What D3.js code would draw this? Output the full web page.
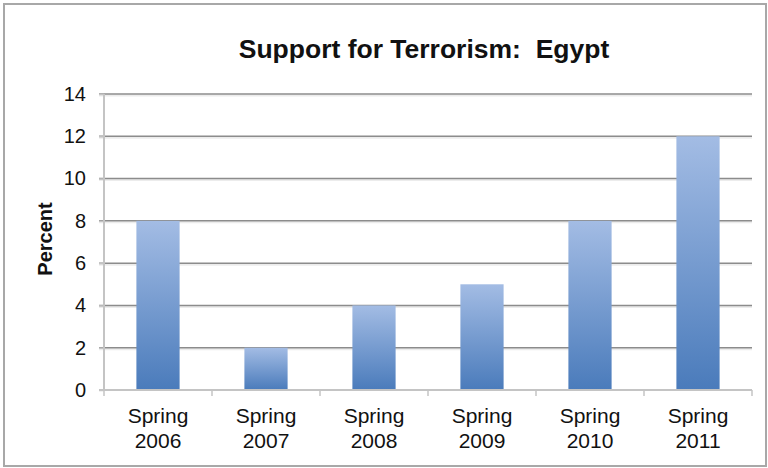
<!DOCTYPE html>
<html>
<head>
<meta charset="utf-8">
<script src="https://cdn.jsdelivr.net/npm/d3@7.9.0/dist/d3.min.js"></script>
<style>
  body { margin: 0; background: #fff; }
  svg text { font-family: "Liberation Sans", Arial, sans-serif; fill: #111; }
</style>
</head>
<body>
<svg id="chart" width="768" height="468"></svg>
<script>
// Chart data
const categories = ["Spring 2006", "Spring 2007", "Spring 2008", "Spring 2009", "Spring 2010", "Spring 2011"];
const values = [8, 2, 4, 5, 8, 12];
const yTicks = [0, 2, 4, 6, 8, 10, 12, 14];

const svg = d3.select("#chart");
const plot = { left: 104, right: 752, top: 94, bottom: 390 };

// Outer frame
svg.append("rect")
    .attr("x", 4).attr("y", 4)
    .attr("width", 762).attr("height", 462)
    .attr("fill", "#fff")
    .attr("stroke", "#a8a8a8")
    .attr("stroke-width", 2);

// Bar gradient
const grad = svg.append("defs").append("linearGradient")
    .attr("id", "barGrad")
    .attr("x1", 0).attr("y1", 0).attr("x2", 0).attr("y2", 1);
grad.append("stop").attr("offset", "0%").attr("stop-color", "#a3bce4");
grad.append("stop").attr("offset", "100%").attr("stop-color", "#4a7bbb");

// Scales
const x = d3.scaleBand()
    .domain(categories)
    .range([plot.left, plot.right])
    .paddingInner(0.6)
    .paddingOuter(0.3);

const y = d3.scaleLinear()
    .domain([0, 14])
    .range([plot.bottom, plot.top]);

// Gridlines with a faint shadow
svg.append("g")
    .selectAll("line")
    .data(yTicks.filter(d => d > 0))
    .join("line")
    .attr("x1", plot.left - 5).attr("x2", plot.right)
    .attr("y1", d => y(d) + 1.5).attr("y2", d => y(d) + 1.5)
    .attr("stroke", "#ececec")
    .attr("stroke-width", 2);

svg.append("g")
    .selectAll("line")
    .data(yTicks.filter(d => d > 0))
    .join("line")
    .attr("x1", plot.left - 5).attr("x2", plot.right)
    .attr("y1", d => y(d)).attr("y2", d => y(d))
    .attr("stroke", "#8c8c8c")
    .attr("stroke-width", 1.5);

// Y axis
const yAxis = svg.append("g")
    .attr("transform", `translate(${plot.left},0)`)
    .call(d3.axisLeft(y).tickValues(yTicks).tickSize(5).tickPadding(13));
yAxis.select(".domain")
    .attr("stroke", "#c4c4c4")
    .attr("stroke-width", 2)
    .attr("d", `M0,${plot.top}V${plot.bottom}`);
yAxis.selectAll(".tick line").attr("stroke", "#c4c4c4").attr("stroke-width", 1.5);
yAxis.selectAll(".tick text")
    .attr("font-size", 20)
    .attr("font-family", "Liberation Sans, Arial, sans-serif")
    .attr("fill", "#111");

// Bars
svg.append("g")
    .selectAll("rect")
    .data(values)
    .join("rect")
    .attr("x", (d, i) => x(categories[i]))
    .attr("y", d => y(d))
    .attr("width", x.bandwidth())
    .attr("height", d => y(0) - y(d))
    .attr("fill", "url(#barGrad)");

// X axis
const xAxis = svg.append("g")
    .attr("transform", `translate(0,${plot.bottom})`);
xAxis.append("line")
    .attr("x1", plot.left - 5).attr("x2", plot.right)
    .attr("stroke", "#c4c4c4")
    .attr("stroke-width", 2);
const step = x.step();
const bounds = d3.range(categories.length + 1).map(i => plot.left + i * step);
xAxis.selectAll(".xtick")
    .data(bounds)
    .join("line")
    .attr("class", "xtick")
    .attr("x1", d => d).attr("x2", d => d)
    .attr("y1", 0).attr("y2", 6)
    .attr("stroke", "#c4c4c4")
    .attr("stroke-width", 1.5);

const labels = xAxis.selectAll(".xlabel")
    .data(categories)
    .join("text")
    .attr("class", "xlabel")
    .attr("text-anchor", "middle")
    .attr("font-size", 21)
    .attr("x", d => x(d) + x.bandwidth() / 2);
labels.append("tspan")
    .attr("x", d => x(d) + x.bandwidth() / 2)
    .attr("y", 33)
    .text(d => d.split(" ")[0]);
labels.append("tspan")
    .attr("x", d => x(d) + x.bandwidth() / 2)
    .attr("y", 58)
    .text(d => d.split(" ")[1]);

// Y axis title
svg.append("text")
    .attr("transform", `translate(52,${(plot.top + plot.bottom) / 2 - 3}) rotate(-90)`)
    .attr("text-anchor", "middle")
    .attr("font-size", 20)
    .attr("font-weight", "bold")
    .text("Percent");

// Chart title
svg.append("text")
    .attr("x", 424)
    .attr("y", 58)
    .attr("text-anchor", "middle")
    .attr("font-size", 26.5)
    .attr("font-weight", "bold")
    .attr("xml:space", "preserve")
    .style("white-space", "pre")
    .text("Support for Terrorism:  Egypt");
</script>
</body>
</html>
